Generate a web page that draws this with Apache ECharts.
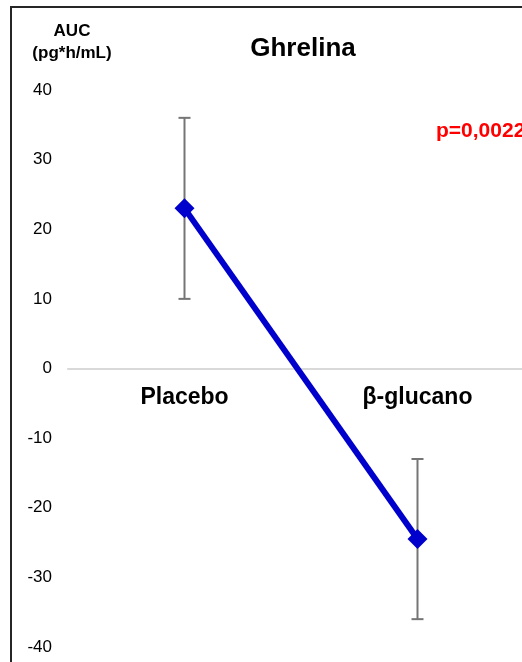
<!DOCTYPE html>
<html>
<head>
<meta charset="utf-8">
<style>
  html, body { margin: 0; padding: 0; background: #fff; }
  #chart { width: 522px; height: 662px; }
</style>
<script src="https://cdn.jsdelivr.net/npm/echarts@6/dist/echarts.min.js"></script>
</head>
<body>
<div id="chart"></div>
<script>
// Ghrelin AUC by treatment group
const categories = ['Placebo', 'β-glucano'];
const meanAUC = [23, -24.5];
const errAUC = [13, 11.5];
const yTicks = { min: -40, max: 40, interval: 10 };
const pValueText = 'p=0,0022';

const FONT = 'Liberation Sans, Arial, sans-serif';

const errorData = categories.map((c, i) => [i, meanAUC[i] - errAUC[i], meanAUC[i] + errAUC[i]]);

const chart = echarts.init(document.getElementById('chart'), null, { renderer: 'canvas' });

chart.setOption({
  animation: false,
  backgroundColor: '#ffffff',
  grid: { left: 68, top: 90, width: 466, bottom: 15, outerBoundsMode: 'none', containLabel: false },
  title: {
    text: 'Ghrelina',
    left: 298, top: 31, textAlign: 'center',
    textStyle: { fontFamily: FONT, fontWeight: 'bold', fontSize: 26, color: '#000' }
  },
  graphic: [
    {
      type: 'rect', silent: true,
      shape: { x: 11, y: 7, width: 600, height: 700 },
      style: { fill: 'none', stroke: '#262626', lineWidth: 2 }
    },
    {
      type: 'text', x: 72, y: 20,
      style: {
        text: 'AUC\n(pg*h/mL)', fontFamily: FONT, fontWeight: 'bold', fontSize: 17,
        fill: '#000', align: 'center', lineHeight: 22
      }
    },
    {
      type: 'text', x: 436, y: 121,
      style: { text: pValueText, fontFamily: FONT, fontWeight: 'bold', fontSize: 21, fill: '#ff0000' }
    }
  ],
  xAxis: {
    type: 'category',
    data: categories,
    boundaryGap: true,
    axisLine: { onZero: true, lineStyle: { color: '#d9d9d9', width: 2 } },
    axisTick: { show: false },
    // labels sit just under the zero line
    axisLabel: {
      show: true, interval: 0, margin: -261,
      fontFamily: FONT, fontWeight: 'bold', fontSize: 23, color: '#000'
    },
    splitLine: { show: false }
  },
  yAxis: {
    type: 'value',
    min: yTicks.min, max: yTicks.max, interval: yTicks.interval,
    axisLine: { show: false },
    axisTick: { show: false },
    splitLine: { show: false },
    axisLabel: { margin: 16, fontFamily: FONT, fontSize: 17, color: '#000' }
  },
  series: [
    {
      type: 'custom',
      data: errorData,
      z: 1,
      renderItem: function (params, api) {
        const x = api.value(0);
        const lo = api.coord([x, api.value(1)]);
        const hi = api.coord([x, api.value(2)]);
        const half = 6;
        const st = { stroke: '#757575', lineWidth: 2 };
        return {
          type: 'group',
          children: [
            { type: 'line', shape: { x1: lo[0], y1: lo[1], x2: hi[0], y2: hi[1] }, style: st },
            { type: 'line', shape: { x1: lo[0] - half, y1: lo[1], x2: lo[0] + half, y2: lo[1] }, style: st },
            { type: 'line', shape: { x1: hi[0] - half, y1: hi[1], x2: hi[0] + half, y2: hi[1] }, style: st }
          ]
        };
      }
    },
    {
      type: 'line',
      data: meanAUC,
      z: 2,
      symbol: 'diamond',
      symbolSize: 20,
      lineStyle: { color: '#0000cc', width: 6 },
      itemStyle: { color: '#0000cc' }
    }
  ]
});
</script>
</body>
</html>
